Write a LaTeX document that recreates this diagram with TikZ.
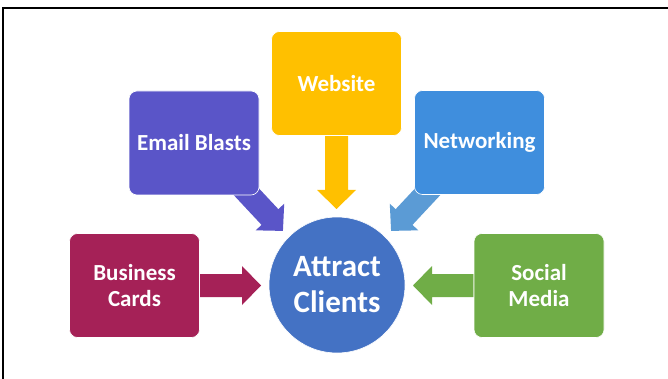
\documentclass[tikz,border=0pt]{standalone}
\usepackage{fontspec}
\setmainfont{Carlito}
\usetikzlibrary{calc,backgrounds}
\definecolor{cEmail}{HTML}{5A55C8}
\definecolor{cWeb}{HTML}{FFC000}
\definecolor{cNet}{HTML}{3F8EDD}
\definecolor{cNetArr}{HTML}{5B9BD5}
\definecolor{cBiz}{HTML}{A52157}
\definecolor{cSoc}{HTML}{70AD47}
\definecolor{cCirc}{HTML}{4472C4}
\newcommand{\blockarr}[3]{%
  \fill[#3] let \p1=(#1), \p2=(#2),
    \n1={atan2(\y2-\y1,\x2-\x1)},
    \n2={veclen(\x2-\x1,\y2-\y1)-19pt},
    \n3={veclen(\x2-\x1,\y2-\y1)} in
    [shift={(\p1)}, rotate=\n1]
    (0pt,-11.5pt) -- (\n2,-11.5pt) -- (\n2,-19.5pt) -- (\n3,0pt)
    -- (\n2,19.5pt) -- (\n2,11.5pt) -- (0pt,11.5pt) -- cycle;}
\begin{document}
\begin{tikzpicture}[x=1pt,y=-1pt,
  box/.style={rounded corners=8pt, draw=white, line width=0.6pt,
    minimum width=130pt, minimum height=104pt, inner sep=0pt, align=center,
    text=white, font=\bfseries\fontsize{23}{26}\selectfont},
  hub/.style={circle, draw=white, line width=0.6pt, minimum size=136pt,
    inner sep=0pt, align=center, text=white,
    font=\bfseries\fontsize{31}{36}\selectfont}]
\useasboundingbox (0,0) rectangle (668,379);
% frame
\draw[line width=2.2pt] (3.3,379) -- (3.3,8.3) -- (668,8.3);
% nodes
\node[box, fill=cEmail] (email) at (194,143) {Email Blasts};
\node[box, fill=cWeb] (web) at (336.5,83.5) {Website};
\node[box, fill=cNet] (net) at (479.5,142.5) {Networking};
\node[box, fill=cBiz] (biz) at (134.5,285.5) {Business\\Cards};
\node[box, fill=cSoc] (soc) at (539,285.5) {Social\\Media};
\node[hub, fill=cCirc] (circ) at (337,285) {Attract\\Clients};
% arrow ends
\coordinate (wT) at (336.5,209);
\coordinate (bT) at (261,285.5);
\coordinate (sT) at (413,285.5);
\coordinate (eS) at (231.8,176.2);
\coordinate (eT) at (283,231);
\coordinate (nS) at (442.2,176.2);
\coordinate (nT) at (391,231);
\begin{pgfonlayer}{background}
\fill[white] (0,0) rectangle (668,379);
\blockarr{web.south}{wT}{cWeb}
\blockarr{biz.east}{bT}{cBiz}
\blockarr{soc.west}{sT}{cSoc}
\blockarr{eS}{eT}{cEmail}
\blockarr{nS}{nT}{cNetArr}
\end{pgfonlayer}
\end{tikzpicture}
\end{document}
